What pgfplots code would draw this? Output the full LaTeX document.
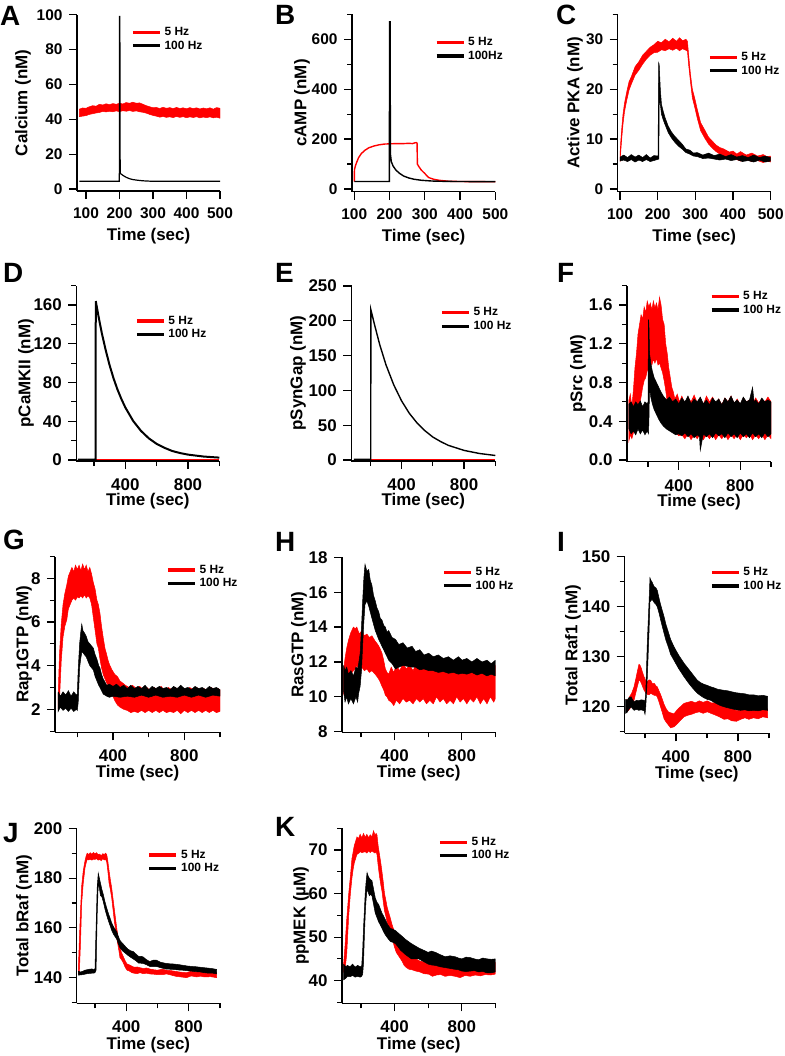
\documentclass[border=0pt]{standalone}
\usepackage{pgfplots}
\pgfplotsset{compat=1.18}
\usepackage{fontspec}
\setmainfont{Liberation Sans}
\newcommand{\fs}[1]{\fontsize{#1}{#1}\selectfont\bfseries}

\pgfplotsset{
  igor/.style={
    scale only axis,
    axis lines=left,
    axis line style={-, line width=1.2bp},
    tick align=outside,
    tick style={black, line width=1.2bp},
    major tick length=8bp, minor tick length=5bp,
    /pgf/number format/assume math mode=true,
    legend cell align=left,
    legend style={draw=none, fill=none, anchor=north west, inner sep=0pt, font=\fs{12}, row sep=1bp,
      nodes={inner ysep=0.5bp, inner xsep=3bp, text height=9bp, text depth=2.5bp}},
    legend image code/.code={\draw[##1, line width=3.3bp] (0bp,0bp) -- (27bp,0bp);},
    every axis y label/.style={rotate=90, anchor=center, font=\fs{17}},
    every axis x label/.style={anchor=center, font=\fs{17}},
    xlabel={Time (sec)},
    yticklabel style={anchor=east, xshift=-3bp},
  },
  toprow/.style={igor, xtick={100,200,...,500}, tick label style={font=\fs{15.5}}, xmax=500,
    xticklabel style={anchor=north, yshift=-5bp},
    xlabel style={at={(axis description cs:0.5,-0.255)}}},
  lowrow/.style={igor, xtick={400,800}, minor xtick={200,600,1000}, tick label style={font=\fs{17}}, xmax=1000,
    xticklabel style={anchor=north, yshift=-6bp}},
  band/.style={forget plot, mark=none, line width=0.5bp},
  trace/.style={forget plot, mark=none},
}

\begin{document}
\begin{tikzpicture}
\useasboundingbox (0bp,0bp) rectangle (785bp,-1056bp);

% ---------- A: Calcium ----------
\begin{axis}[toprow, at={(77bp,-191bp)}, anchor=south west, width=143bp, height=176.3bp,
  xmin=73.1, ymin=-1.15, ymax=100, ytick={0,20,...,100},
  ylabel={Calcium (nM)}, ylabel style={at={(axis description cs:-0.378,0.5)}},
  legend style={at={(0.378,0.937)}}]
\addplot[band, fill=red, draw=red] coordinates {
 (80,45.8) (90,46.5) (100,46.3) (110,47.2) (120,47.8) (130,47.5) (140,48.6) (150,48.2) (160,48.9) (170,48.4)
 (180,49) (190,48.6) (200,49.2) (210,48.8) (220,49.6) (230,49.2) (240,49.8) (250,49.2) (260,49.4) (270,48.6)
 (280,47.8) (290,47.2) (300,46.6) (310,46.8) (320,46.2) (330,46.9) (340,46.3) (350,46.7) (360,46.1) (370,46.8)
 (380,46.2) (390,46.6) (400,46) (410,46.7) (420,46.1) (430,46.6) (440,45.9) (450,46.5) (460,46) (470,46.6)
 (480,45.8) (490,46.7) (500,46.3)
 (500,40.6) (490,41.2) (480,40.8) (470,41.4) (460,40.9) (450,41.3) (440,40.8) (430,41.5) (420,41) (410,41.4)
 (400,40.9) (390,41.5) (380,41.1) (370,41.6) (360,41) (350,41.4) (340,41.1) (330,41.6) (320,41.2) (310,41.8)
 (300,42.2) (290,42.8) (280,43.5) (270,44) (260,44.3) (250,44.8) (240,44.5) (230,45) (220,44.6) (210,44.9)
 (200,44.4) (190,44.8) (180,44.3) (170,44.6) (160,44.2) (150,44.5) (140,43.9) (130,43.6) (120,43.2) (110,42.8)
 (100,42.1) (90,41.8) (80,41.5) (80,45.8)};
\addplot[trace, black, line width=1.2bp] coordinates {
 (80,4.4) (199.5,4.4) (200,99) (201,99) (202,9) (206,8.4) (212,7.6) (220,6.7) (230,5.9) (240,5.4)
 (255,5) (270,4.7) (290,4.5) (320,4.4) (500,4.4)};
\addlegendimage{red}\addlegendentry{5 Hz}
\addlegendimage{black}\addlegendentry{100 Hz}
\end{axis}

% ---------- B: cAMP ----------
\begin{axis}[toprow, at={(352bp,-191.7bp)}, anchor=south west, width=143.3bp, height=177.4bp,
  xmin=93.5, ymin=-10.8, ymax=700, ytick={0,200,400,600}, minor ytick={100,300,500,700},
  ylabel={cAMP (nM)}, ylabel style={at={(axis description cs:-0.349,0.5)}},
  legend style={at={(0.577,0.877)}}]
\addplot[trace, red, line width=1.4bp] coordinates {
 (100,30) (100.5,78) (103,92) (107,108) (112,125) (120,142) (130,155) (141,165) (155,172) (170,177)
 (185,180) (200,181) (220,182) (240,182) (255,183) (265,182) (272,185) (276,186) (278,184) (279,100)
 (283,90) (290,76) (300,62) (311,46) (325,39) (340,35) (368,31) (400,30) (450,29.5) (500,29)};
\addplot[trace, black, line width=1.4bp] coordinates {
 (100,30) (199.5,30) (200,670) (201.5,670) (202.5,140) (205,110) (210,92) (218,76) (228,63) (240,52)
 (255,44) (270,39) (290,35) (320,32) (360,30.5) (400,30) (500,29.5)};
\addlegendimage{red}\addlegendentry{5 Hz}
\addlegendimage{black}\addlegendentry{100Hz}
\end{axis}

% ---------- C: Active PKA ----------
\begin{axis}[toprow, at={(617.7bp,-191.7bp)}, anchor=south west, width=153bp, height=177.4bp,
  xmin=93.9, ymin=-0.54, ymax=35, ytick={0,10,20,30}, minor ytick={5,15,25,35},
  ylabel={Active PKA (nM)}, ylabel style={at={(axis description cs:-0.279,0.5)}},
  legend style={at={(0.59,0.794)}}]
\addplot[band, fill=red, draw=red] coordinates {
 (100,6.8) (102,9.5) (105,12.5) (108,15) (112,17.2) (118,19.5) (124,21.5) (130,22.5) (140,24.5) (150,25.5)
 (160,26.8) (170,27.6) (180,28.4) (190,28.9) (200,29.6) (210,29.3) (220,30) (230,29.5) (240,30.2) (250,29.6)
 (258,30.3) (266,29.7) (275,30) (279,29.6) (282,27) (287,23) (292,20) (298,18.3) (305,16) (314,13.3)
 (325,11.8) (335,10.4) (345,9.6) (355,8.8) (365,8.3) (376,8) (390,7.4) (400,7.6) (410,7) (420,7.5)
 (435,6.8) (450,7.2) (465,6.6) (480,6.9) (490,6.5) (500,6.6)
 (500,5.4) (490,5.6) (480,5.3) (465,5.7) (450,5.5) (435,5.9) (420,5.6) (410,5.9) (400,6.1) (390,6.3)
 (376,6.6) (365,7) (355,7.5) (345,8.2) (335,9) (325,10.2) (314,11.7) (305,14.2) (298,16.5) (292,18.3)
 (287,21.5) (282,25) (279,27.6) (275,27.8) (266,28.1) (258,27.7) (250,28.2) (240,27.8) (230,28.1) (220,27.7)
 (210,27.9) (200,27.4) (190,27.3) (180,26.8) (170,26) (160,25) (150,23.8) (140,22.8) (130,21) (124,19.8)
 (118,17.8) (112,15.5) (108,13) (105,10.5) (102,7.5) (100,5.5) (100,6.8)};
\addplot[band, fill=black, draw=black] coordinates {
 (100,6.4) (110,6.8) (120,6.3) (130,6.9) (140,6.4) (150,6.8) (160,6.3) (170,6.9) (180,6.2) (190,6.7)
 (201,6.6) (202.5,25.3) (204,25) (207,20) (210,17) (215,15.5) (220,14.2) (228,12.6) (236,11.5) (245,10.6)
 (255,9.8) (265,9) (275,8) (285,7.8) (295,7.2) (305,7.3) (320,6.8) (335,7.2) (350,6.7) (365,7)
 (380,6.5) (395,6.9) (410,6.4) (425,6.7) (440,6.3) (455,6.8) (470,6.3) (485,6.6) (500,6.3)
 (500,5.6) (485,5.4) (470,5.8) (455,5.4) (440,5.7) (425,5.5) (410,5.9) (395,5.7) (380,6) (365,5.8)
 (350,6) (335,6.2) (320,6.1) (305,6.5) (295,6.6) (285,7) (275,7.3) (265,8) (255,8.6) (245,9.4)
 (236,10.3) (228,11.3) (220,12.8) (215,13.8) (210,15) (207,17) (204.5,20) (203,6) (190,5.7) (180,5.5)
 (170,5.9) (160,5.5) (150,5.8) (140,5.4) (130,5.9) (120,5.5) (110,5.8) (100,5.6) (100,6.4)};
\addlegendimage{red}\addlegendentry{5 Hz}
\addlegendimage{black}\addlegendentry{100 Hz}
\end{axis}

% ---------- D: pCaMKII ----------
\begin{axis}[lowrow, at={(76.3bp,-461bp)}, anchor=south west, width=143bp, height=175.4bp,
  xmin=87.3, ymin=-1, ymax=180, ytick={0,40,...,160}, minor ytick={20,60,100,140,180},
  ylabel={pCaMKII (nM)}, ylabel style={at={(axis description cs:-0.352,0.5)}},
  xlabel style={at={(axis description cs:0.5,-0.228)}},
  legend style={at={(0.41,0.835)}}]
\addplot[trace, red, line width=1.6bp] coordinates {(97,0.5) (1000,0.5)};
\addplot[trace, black, line width=2bp] coordinates {
 (97,0.4) (211,0.4) (211.5,164) (230,147.5) (250,131) (275,113.4) (300,97.7) (325,84.3) (350,72.8) (375,63)
 (400,54.3) (450,40.4) (500,30.1) (550,22.4) (600,16.7) (650,12.6) (700,9.3) (750,7.2) (800,5.6) (900,3.6)
 (1000,2.5)};
\addlegendimage{red}\addlegendentry{5 Hz}
\addlegendimage{black}\addlegendentry{100 Hz}
\end{axis}

% ---------- E: pSynGap ----------
\begin{axis}[lowrow, at={(351.3bp,-461bp)}, anchor=south west, width=144bp, height=175.7bp,
  xmin=78.5, ymin=-1.44, ymax=251, ytick={0,50,...,250},
  ylabel={pSynGap (nM)}, ylabel style={at={(axis description cs:-0.37,0.5)}},
  xlabel style={at={(axis description cs:0.5,-0.228)}},
  legend style={at={(0.616,0.881)}}]
\addplot[trace, red, line width=1.6bp] coordinates {(95,1) (1000,1)};
\addplot[trace, black, line width=1.4bp] coordinates {
 (95,0.8) (203,0.8) (203.5,216) (230,192) (260,166) (300,137) (350,108) (400,85) (450,67) (500,53)
 (550,42) (600,33) (650,26.5) (700,21) (800,13.8) (900,9.3) (1000,6.5)};
\addlegendimage{red}\addlegendentry{5 Hz}
\addlegendimage{black}\addlegendentry{100 Hz}
\end{axis}

% ---------- F: pSrc ----------
\begin{axis}[lowrow, at={(627bp,-461.7bp)}, anchor=south west, width=144bp, height=176.1bp,
  xmin=63.4, ymin=-0.0175, ymax=1.8, ytick={0,0.4,0.8,1.2,1.6}, minor ytick={0.2,0.6,1.0,1.4,1.8},
  yticklabel style={/pgf/number format/.cd, fixed, fixed zerofill, precision=1},
  ylabel={pSrc (nM)}, ylabel style={at={(axis description cs:-0.34,0.5)}},
  xlabel style={at={(axis description cs:0.5,-0.228)}},
  legend style={at={(0.574,0.974)}}]
\addplot[band, fill=red, draw=red] coordinates {
 (76,0.62) (85,0.68) (95,0.55) (105,0.72) (115,0.95) (125,1.1) (135,1.3) (145,1.4) (155,1.5) (165,1.45)
 (175,1.58) (185,1.52) (195,1.64) (205,1.58) (215,1.62) (225,1.55) (235,1.64) (245,1.57) (255,1.62) (265,1.55)
 (275,1.68) (285,1.6) (295,1.45) (305,1.4) (315,1.2) (325,1.1) (335,0.95) (345,0.85) (355,0.75) (365,0.7)
 (375,0.63) (390,0.68) (405,0.6) (420,0.66) (440,0.58) (460,0.65) (480,0.6) (500,0.67) (520,0.59) (540,0.64)
 (560,0.57) (580,0.66) (600,0.6) (620,0.65) (640,0.58) (660,0.63) (680,0.57) (700,0.64) (720,0.6) (740,0.66)
 (760,0.58) (780,0.63) (800,0.57) (820,0.64) (840,0.6) (860,0.62) (880,0.57) (900,0.64) (920,0.59) (940,0.63)
 (960,0.6) (980,0.65) (1000,0.6)
 (1000,0.22) (980,0.26) (960,0.21) (940,0.27) (920,0.22) (900,0.26) (880,0.21) (860,0.27) (840,0.23) (820,0.26)
 (800,0.21) (780,0.27) (760,0.22) (740,0.26) (720,0.21) (700,0.27) (680,0.22) (660,0.26) (640,0.21) (620,0.27)
 (600,0.22) (580,0.26) (560,0.21) (540,0.27) (520,0.22) (500,0.26) (480,0.21) (460,0.27) (440,0.22) (420,0.26)
 (400,0.25) (380,0.28) (365,0.3) (355,0.35) (345,0.42) (335,0.5) (325,0.6) (315,0.72) (305,0.82) (295,0.9)
 (285,0.95) (275,1.0) (265,0.98) (255,1.05) (245,1.0) (235,1.04) (225,0.98) (215,1.02) (205,0.95) (195,0.92)
 (185,0.85) (175,0.82) (165,0.75) (155,0.65) (145,0.58) (135,0.5) (125,0.42) (115,0.35) (105,0.28) (95,0.22)
 (85,0.26) (76,0.2) (76,0.62)};
\addplot[band, fill=black, draw=black] coordinates {
 (76,0.58) (90,0.6) (105,0.55) (120,0.6) (135,0.57) (150,0.61) (165,0.55) (180,0.6) (195,0.58) (200,0.6)
 (203,1.45) (206,1.4) (210,1.1) (218,1.0) (228,0.92) (240,0.85) (255,0.8) (270,0.75) (285,0.7) (300,0.66)
 (320,0.62) (340,0.65) (360,0.6) (380,0.63) (400,0.58) (420,0.64) (440,0.6) (460,0.66) (480,0.58) (500,0.63)
 (520,0.6) (540,0.65) (560,0.58) (580,0.62) (600,0.57) (620,0.64) (640,0.6) (660,0.63) (680,0.57) (700,0.64)
 (720,0.6) (740,0.66) (760,0.59) (780,0.62) (800,0.58) (820,0.65) (840,0.6) (860,0.62) (880,0.75) (890,0.6)
 (900,0.62) (920,0.58) (940,0.64) (960,0.6) (980,0.62) (1000,0.6)
 (1000,0.27) (980,0.24) (960,0.28) (940,0.23) (920,0.27) (900,0.24) (880,0.28) (860,0.23) (840,0.27) (820,0.24)
 (800,0.28) (780,0.23) (760,0.27) (740,0.24) (720,0.28) (700,0.23) (680,0.27) (660,0.25) (640,0.28) (620,0.23)
 (600,0.27) (580,0.24) (560,0.27) (540,0.1) (535,0.24) (520,0.26) (500,0.23) (480,0.27) (460,0.24) (440,0.28)
 (420,0.25) (400,0.27) (380,0.26) (360,0.28) (340,0.3) (320,0.32) (300,0.35) (285,0.38) (270,0.42) (255,0.47)
 (240,0.52) (228,0.58) (218,0.65) (210,0.75) (206,0.4) (203,0.27) (195,0.3) (180,0.26) (165,0.31) (150,0.27)
 (135,0.32) (120,0.26) (105,0.3) (90,0.27) (76,0.32) (76,0.58)};
\addlegendimage{red}\addlegendentry{5 Hz}
\addlegendimage{black}\addlegendentry{100 Hz}
\end{axis}

% ---------- G: Rap1GTP ----------
\begin{axis}[lowrow, at={(55bp,-732.3bp)}, anchor=south west, width=165bp, height=175.8bp,
  xmin=75, ymin=0.946, ymax=9, ytick={2,4,6,8}, minor ytick={1,3,5,7,9},
  ylabel={Rap1GTP (nM)}, ylabel style={at={(axis description cs:-0.188,0.5)}},
  xlabel style={at={(axis description cs:0.5,-0.232)}},
  legend style={at={(0.673,0.96)}}]
\addplot[band, fill=red, draw=red] coordinates {
 (93,2.7) (100,4.5) (110,5.9) (120,6.8) (130,7.3) (141,7.7) (150,8.1) (160,8.3) (170,8.5) (180,8.3)
 (190,8.6) (200,8.4) (210,8.6) (220,8.35) (230,8.65) (240,8.4) (250,8.6) (260,8.3) (270,8.5) (280,8.2)
 (290,7.8) (300,7.5) (310,7.0) (318,6.8) (327,6.4) (336,5.8) (345,5.3) (355,4.8) (365,4.5) (374,4.2)
 (383,4.0) (395,3.8) (410,3.6) (425,3.5) (439,3.3) (455,3.2) (470,3.1) (490,3.0) (510,3.1) (530,2.95)
 (550,3.05) (570,2.9) (590,3.0) (610,2.85) (630,3.0) (650,2.9) (670,3.05) (690,2.85) (710,3.0) (730,2.9)
 (750,3.0) (770,2.85) (790,2.95) (810,2.85) (830,3.0) (850,2.9) (870,3.0) (890,2.85) (910,2.95) (930,2.85)
 (950,3.0) (970,2.9) (990,2.95) (1000,2.9)
 (1000,1.9) (980,1.85) (960,1.95) (940,1.85) (920,1.95) (900,1.85) (880,1.95) (860,1.85) (840,1.95) (820,1.85)
 (800,1.95) (780,1.8) (760,1.95) (740,1.85) (720,1.9) (700,1.85) (680,1.95) (660,1.85) (640,1.95) (620,1.85)
 (600,1.95) (580,1.85) (560,1.95) (540,1.85) (520,1.9) (500,1.85) (480,1.95) (460,2.0) (439,2.1) (425,2.2)
 (410,2.4) (395,2.7) (383,3.0) (374,3.1) (365,3.2) (355,3.4) (345,3.6) (336,3.9) (327,4.3) (318,4.8)
 (310,5.0) (300,5.6) (290,6.2) (280,6.8) (270,7.1) (260,7.2) (250,7.1) (240,7.25) (230,7.1) (220,7.2)
 (210,7.1) (200,7.15) (190,7.0) (180,7.1) (170,7.0) (160,6.8) (150,6.6) (141,6.1) (130,5.8) (120,5.3)
 (110,4.2) (100,2.4) (93,2.0) (93,2.7)};
\addplot[band, fill=black, draw=black] coordinates {
 (93,2.8) (105,2.6) (120,2.8) (135,2.65) (150,2.85) (165,2.6) (180,2.8) (195,2.65) (200,2.7) (205,3.8)
 (213,5.0) (219,5.5) (225,5.9) (232,5.6) (240,5.5) (250,5.35) (260,5.1) (270,5.0) (280,4.9) (290,4.8)
 (300,4.5) (310,4.3) (320,4.0) (327,3.9) (336,3.6) (345,3.4) (355,3.25) (365,3.1) (380,3.15) (400,3.05)
 (420,3.15) (440,3.0) (460,3.1) (480,2.95) (500,3.1) (520,2.95) (540,3.05) (560,2.95) (580,3.1) (600,2.9)
 (620,3.05) (640,2.95) (660,3.05) (680,2.95) (700,3.0) (720,2.9) (740,3.05) (760,2.95) (780,3.1) (800,2.95)
 (820,3.0) (840,2.9) (860,3.05) (880,2.95) (900,3.0) (920,2.9) (940,3.05) (960,2.95) (980,3.0) (1000,2.9)
 (1000,2.6) (960,2.65) (920,2.55) (880,2.65) (840,2.55) (800,2.65) (760,2.55) (720,2.6) (680,2.55) (640,2.65)
 (600,2.55) (560,2.65) (520,2.55) (480,2.6) (440,2.55) (400,2.6) (380,2.55) (365,2.6) (355,2.65) (345,2.7)
 (336,2.85) (327,3.0) (320,3.1) (310,3.3) (300,3.5) (290,3.8) (280,3.9) (270,4.0) (260,4.2) (250,4.4)
 (240,4.5) (232,4.6) (225,4.6) (219,4.3) (213,3.9) (205,2.3) (200,1.95) (195,2.0) (180,1.9) (165,2.05)
 (150,1.9) (135,2.05) (120,1.95) (105,2.1) (93,1.9) (93,2.8)};
\addlegendimage{red}\addlegendentry{5 Hz}
\addlegendimage{black}\addlegendentry{100 Hz}
\end{axis}

% ---------- H: RasGTP ----------
\begin{axis}[lowrow, at={(342bp,-732.3bp)}, anchor=south west, width=153.4bp, height=175bp,
  xmin=87, ymin=7.966, ymax=18, ytick={8,10,...,18},
  ylabel={RasGTP (nM)}, ylabel style={at={(axis description cs:-0.28,0.5)}},
  xlabel style={at={(axis description cs:0.5,-0.232)}},
  legend style={at={(0.652,0.951)}}]
\addplot[band, fill=red, draw=red] coordinates {
 (97,11.6) (105,12.2) (115,12.8) (127,13.3) (140,13.7) (155,14.0) (166,13.9) (175,14.0) (190,13.6) (205,13.8)
 (220,13.5) (235,13.6) (250,13.4) (265,13.5) (284,13.2) (300,13.0) (312,12.8) (325,12.5) (335,12.1) (345,11.6)
 (355,11.4) (365,11.3) (380,11.7) (395,11.4) (410,11.8) (430,11.5) (450,11.9) (470,11.6) (490,11.8) (510,11.5)
 (530,11.9) (550,11.6) (570,12.0) (590,11.6) (610,11.8) (630,11.5) (650,11.9) (670,11.6) (690,11.8) (710,11.5)
 (730,11.9) (750,11.6) (770,11.8) (790,11.5) (810,11.9) (830,11.6) (850,11.8) (870,11.5) (890,11.9) (910,11.6)
 (930,11.8) (950,11.6) (970,11.9) (990,11.6) (1000,11.8)
 (1000,9.9) (990,9.7) (970,10.0) (950,9.6) (930,9.9) (910,9.6) (890,10.0) (870,9.7) (850,9.9) (830,9.6)
 (810,9.9) (790,9.7) (770,10.0) (750,9.6) (730,9.8) (710,9.6) (690,9.9) (670,9.7) (650,10.0) (630,9.6)
 (610,9.8) (590,9.6) (570,9.9) (550,9.7) (530,9.9) (510,9.6) (490,9.8) (470,9.7) (450,9.9) (430,9.6)
 (410,9.8) (395,9.5) (380,9.7) (365,9.8) (355,10.0) (345,10.1) (335,10.4) (325,10.6) (312,10.9) (300,11.1)
 (284,11.3) (265,11.5) (250,11.4) (235,11.6) (220,11.5) (205,11.7) (190,11.5) (175,11.8) (166,11.6) (155,11.5)
 (140,11.3) (127,11.2) (115,10.8) (105,10.5) (97,10.2) (97,11.6)};
\addplot[band, fill=black, draw=black] coordinates {
 (97,11.8) (105,11.5) (115,11.7) (125,11.3) (140,11.5) (155,11.2) (170,11.7) (180,11.6) (186,11.9) (195,12.5)
 (203,14) (210,15.5) (217,16.8) (224,17.6) (235,17.2) (246,17.3) (255,16.7) (265,16.4) (275,15.8) (285,15.5)
 (295,15.1) (305,14.9) (315,14.5) (325,14.4) (335,14.1) (345,14.0) (355,13.7) (365,13.8) (385,13.4) (405,13.3)
 (425,13.0) (450,13.1) (475,12.8) (504,12.9) (525,12.6) (550,12.7) (575,12.4) (603,12.5) (630,12.3) (660,12.4)
 (690,12.2) (720,12.3) (750,12.1) (780,12.3) (801,12.1) (830,12.2) (860,12.0) (890,12.2) (920,12.0) (950,12.1)
 (975,11.9) (1000,12.1)
 (1000,11.2) (975,11.3) (950,11.2) (920,11.35) (890,11.25) (860,11.4) (830,11.3) (801,11.35) (780,11.3) (750,11.4)
 (720,11.35) (690,11.45) (660,11.4) (630,11.5) (603,11.5) (575,11.6) (550,11.55) (525,11.7) (504,11.7) (475,11.75)
 (450,11.8) (425,11.7) (405,11.6) (385,11.9) (365,12.1) (345,12.5) (325,12.9) (305,13.3) (285,13.8) (265,14.5)
 (246,15.2) (235,15.5) (224,15.3) (217,14.3) (210,13.0) (203,11.5) (195,10.6) (186,10.2) (180,9.7) (170,10.0)
 (155,9.6) (140,9.9) (125,9.6) (115,10.0) (105,9.7) (97,10.3) (97,11.8)};
\addlegendimage{red}\addlegendentry{5 Hz}
\addlegendimage{black}\addlegendentry{100 Hz}
\end{axis}

% ---------- I: Total Raf1 ----------
\begin{axis}[lowrow, at={(624.7bp,-733.3bp)}, anchor=south west, width=144.3bp, height=176.5bp,
  xmin=69, ymin=114.7, ymax=150, ytick={120,130,140,150}, minor ytick={115,125,135,145},
  ylabel={Total Raf1 (nM)}, ylabel style={at={(axis description cs:-0.358,0.5)}},
  xlabel style={at={(axis description cs:0.5,-0.232)}},
  legend style={at={(0.591,0.947)}}]
\addplot[band, fill=red, draw=red] coordinates {
 (82,121.5) (90,121.2) (100,122) (115,122.8) (129,124) (140,125.5) (150,127) (161,128.5) (168,128.3) (175,127.8)
 (185,126.8) (194,126) (205,125.2) (215,125) (226,125.4) (237,125.3) (248,124.6) (260,124.7) (270,124.2) (279,124)
 (290,123.2) (300,122.5) (312,121.5) (323,120.5) (335,119.7) (350,119) (365,118.8) (387,118.6) (405,119.3) (420,119.8)
 (435,120.2) (452,120.7) (475,120.9) (500,121.1) (525,120.8) (550,121.2) (575,120.9) (602,121.2) (625,120.8) (650,120.8)
 (680,120.5) (710,120.3) (735,120) (760,119.8) (790,119.2) (817,119.4) (845,119.8) (870,119.5) (900,119.6) (930,119.3)
 (960,119.7) (991,119.6)
 (991,117.8) (960,118) (930,117.6) (900,117.8) (870,117.5) (845,117.8) (817,117.5) (790,117.1) (760,117.2) (735,117.6)
 (710,117.5) (680,118) (650,118.4) (625,118.7) (602,119) (575,118.7) (550,119) (525,118.8) (500,118.5) (475,118.3)
 (452,118) (435,117.5) (420,117) (405,116.5) (387,116) (365,115.8) (350,116.4) (335,117) (323,117.6) (312,118.8)
 (300,120) (290,121) (279,122) (270,122.3) (260,122.3) (248,122.5) (237,122.7) (226,122.4) (215,122.5) (205,122.8)
 (194,123.3) (185,124) (175,124.8) (168,125.2) (161,125.3) (150,124) (140,122.7) (129,121.3) (115,120.3) (100,119.5)
 (90,119.2) (82,119) (82,121.5)};
\addplot[band, fill=black, draw=black] coordinates {
 (75,121.5) (85,121.3) (95,121.8) (110,122) (120,121.4) (130,121) (145,121.3) (160,121.2) (175,121.4) (194,121.3)
 (200,121) (205,123) (215,133) (226,141) (232,145.8) (238,145.3) (245,145) (252,144.5) (260,144) (270,143.8)
 (279,143.3) (290,141.8) (300,140.5) (312,139.2) (323,138) (335,136.5) (350,135) (365,133.5) (387,132) (405,131)
 (420,130.2) (435,129.5) (452,128.7) (475,127.8) (500,126.8) (520,126) (538,125.3) (560,124.8) (580,124.5) (600,124.3)
 (624,124) (645,123.8) (670,123.5) (690,123.4) (710,123.3) (735,123.2) (760,123) (790,122.8) (817,122.7) (845,122.6)
 (870,122.4) (900,122.4) (930,122.2) (960,122.3) (991,122.1)
 (991,119.3) (960,119.4) (930,119.2) (900,119.3) (870,119.2) (845,119.4) (817,119.3) (790,119.4) (760,119.6) (735,119.8)
 (710,120) (690,120.2) (670,120.5) (645,120.9) (624,121.3) (600,121.5) (580,121.8) (560,122.2) (538,122.7) (520,123.3)
 (500,124) (475,125) (452,126) (435,126.8) (420,127.5) (405,128.3) (387,129.3) (365,130.5) (350,132) (335,133.3)
 (323,134.7) (312,136) (300,137.5) (290,138.8) (279,140) (270,140.5) (260,140.8) (252,141.2) (245,141.5) (238,141.2)
 (232,141) (226,135) (215,126) (205,120) (200,118.5) (194,119.2) (175,119.4) (160,119.3) (145,119.5) (130,119.3)
 (120,119.6) (110,120) (95,119.5) (85,118.9) (75,118.7) (75,121.5)};
\addlegendimage{red}\addlegendentry{5 Hz}
\addlegendimage{black}\addlegendentry{100 Hz}
\end{axis}

% ---------- J: Total bRaf ----------
\begin{axis}[lowrow, at={(76.7bp,-1003.3bp)}, anchor=south west, width=143.3bp, height=175bp,
  xmin=83, ymin=129.7, ymax=200, ytick={140,160,180,200}, minor ytick={130,150,170,190},
  ylabel={Total bRaf (nM)}, ylabel style={at={(axis description cs:-0.368,0.5)}},
  xlabel style={at={(axis description cs:0.5,-0.238)}},
  legend style={at={(0.495,0.885)}}]
\addplot[band, fill=red, draw=red] coordinates {
 (93,143) (100,155) (108,168) (115,177) (125,183) (136,187) (143,188.8) (150,190) (160,189.5) (170,190.2)
 (180,189.6) (190,190.3) (200,189.8) (210,190.2) (220,189.4) (230,189.6) (240,189) (250,189.8) (260,189.5) (268,190)
 (275,189.5) (282,187) (290,183) (298,179.5) (307,176) (316,171.5) (325,167) (332,163.5) (339,160) (350,155.5)
 (360,152) (370,150) (381,148.5) (393,146.8) (405,145.5) (415,145.3) (424,145) (437,144.6) (450,144.2) (470,144.3)
 (488,144) (510,143.7) (530,143.9) (550,143.5) (575,143.2) (600,143) (630,143.4) (658,143) (690,142.8) (720,142.5)
 (750,142.2) (786,142) (815,142.6) (850,142.3) (875,142.5) (900,142.2) (940,142.4) (978,142)
 (978,140) (940,140.4) (900,140.3) (875,140.6) (850,140.3) (815,140.7) (786,140) (750,140.3) (720,140.5) (690,141)
 (658,141.5) (630,141.2) (600,141.2) (575,141.4) (550,141.5) (530,141.8) (510,141.6) (488,142) (470,141.6) (450,141.8)
 (437,142) (424,142.5) (415,142.8) (405,143) (393,144.2) (381,146) (370,147.2) (360,148) (350,152) (339,156)
 (332,159.5) (325,162) (316,167) (307,172) (298,175.5) (290,178) (282,183) (275,186.5) (268,187.5) (260,187.3)
 (250,187.8) (240,187) (230,187.5) (220,187.2) (210,187.8) (200,187.5) (190,187.6) (180,187.2) (170,187.6) (160,187.3)
 (150,187.5) (143,186) (136,184) (125,178) (115,170) (108,155) (100,142) (93,141.5) (93,143)};
\addplot[band, fill=black, draw=black] coordinates {
 (93,142.6) (105,142.3) (120,142.5) (135,143) (150,143.2) (165,143.4) (180,143.5) (190,143.3) (200,143.5) (207,160)
 (214,176) (221,182) (228,180) (235,178) (244,175.5) (253,173.5) (264,170.5) (275,168) (285,166) (296,164)
 (307,162) (318,160.5) (328,159.5) (339,158.5) (350,156.5) (360,155) (370,154.2) (381,153.5) (395,152.5) (410,151.5)
 (428,150.8) (445,150.5) (462,149.5) (480,148.5) (495,148.6) (509,148.3) (530,147.2) (550,146.5) (572,147) (594,147)
 (620,146.2) (650,145.8) (675,145.6) (701,145.5) (730,145.3) (760,145) (790,144.7) (820,144.5) (845,144.4) (872,144.2)
 (900,144) (930,143.8) (955,143.6) (978,143.3)
 (978,141.5) (955,141.8) (930,141.8) (900,142) (872,142.3) (845,142.4) (820,142.6) (790,142.8) (760,143) (730,143.1)
 (701,143.3) (675,143.4) (650,143.5) (620,144) (594,144.5) (572,144.4) (550,144.5) (530,145.2) (509,145.7) (495,145.8)
 (480,145.8) (462,146.8) (445,147.5) (428,148.2) (410,149) (395,149.8) (381,150.5) (370,151.2) (360,152) (350,153.5)
 (339,155.5) (328,156.5) (318,157.5) (307,159) (296,161) (285,163) (275,165) (264,167.5) (253,170.5) (244,172.5)
 (235,173) (228,176) (221,178) (214,165) (207,143) (200,142) (190,141.8) (180,141.8) (165,141.7) (150,141.6)
 (135,141.4) (120,141.2) (105,141.1) (93,141) (93,142.6)};
\addlegendimage{red}\addlegendentry{5 Hz}
\addlegendimage{black}\addlegendentry{100 Hz}
\end{axis}

% ---------- K: ppMEK ----------
\begin{axis}[lowrow, at={(342bp,-1003.3bp)}, anchor=south west, width=153.4bp, height=175.1bp,
  xmin=87, ymin=34.8, ymax=75, ytick={40,50,60,70}, minor ytick={35,45,55,65,75},
  ylabel={ppMEK (µM)}, ylabel style={at={(axis description cs:-0.267,0.5)}},
  xlabel style={at={(axis description cs:0.5,-0.238)}},
  legend style={at={(0.626,0.957)}}]
\addplot[band, fill=red, draw=red] coordinates {
 (97,44) (105,48) (115,54) (127,60) (137,64) (146,68) (153,69.5) (160,71) (168,72) (176,73)
 (185,72.6) (195,73.6) (205,72.8) (215,73.8) (225,72.9) (235,73.6) (245,72.8) (255,73.5) (265,73) (275,74.4)
 (283,73.4) (290,73.8) (295,73.5) (302,71) (310,69) (318,67) (325,65) (333,62.5) (340,60) (348,58.5)
 (355,57) (362,56) (370,55) (377,54) (384,53) (397,51.5) (410,50) (427,48.8) (444,47.5) (457,46.8)
 (470,46) (487,45.8) (504,45.5) (527,45) (550,44.5) (575,44.3) (603,44) (625,44.4) (650,44) (675,43.9)
 (700,44.2) (730,43.7) (760,43.8) (790,44.3) (820,44) (850,43.8) (880,44.2) (910,43.9) (940,44) (970,43.8)
 (1000,44.2)
 (1000,41.5) (970,41.3) (940,41.4) (910,41.1) (880,41.3) (850,41.0) (820,41.2) (790,40.7) (760,41) (730,41.2)
 (700,41) (675,41.4) (650,41.3) (625,41) (603,41.5) (575,41.6) (550,42) (527,42.2) (504,42.5) (487,42.6)
 (470,43) (457,43.5) (444,44.5) (427,45.5) (410,46.5) (397,48) (384,50) (377,50.5) (370,51) (362,52.5)
 (355,53.5) (348,54.8) (340,56) (333,58) (325,60.5) (318,62) (310,64) (302,66.5) (295,69) (290,69.6)
 (283,69.3) (275,69.5) (265,69.8) (255,69.4) (245,69.8) (235,69.3) (225,69.6) (215,69.5) (205,69.4) (195,69.6)
 (185,69.2) (176,69) (168,68) (160,67) (153,65.5) (146,63.5) (137,60) (127,55) (115,46) (105,42.5)
 (97,42) (97,44)};
\addplot[band, fill=black, draw=black] coordinates {
 (97,43.8) (108,43.2) (120,43.5) (135,43.2) (150,43.8) (165,43.1) (180,43.5) (195,43.2) (204,43.3) (210,47)
 (215,52) (220,56) (225,60) (230,62.5) (236,64.8) (243,64) (250,63.5) (257,63.2) (265,63) (275,61)
 (285,59) (295,58) (305,57.5) (315,56.5) (325,55.5) (335,54.8) (345,54) (360,52.8) (375,52) (390,51.8)
 (405,51.5) (420,51) (435,50.5) (450,50) (464,49.5) (482,49) (500,48.5) (522,48) (544,47.5) (572,47)
 (600,46.5) (620,46.8) (643,46.5) (670,46) (700,45.5) (730,45.7) (760,45.5) (780,45.2) (801,45) (825,45.4)
 (850,45.3) (875,45) (900,44.8) (925,45.2) (950,45) (975,44.9) (1000,45)
 (1000,42) (975,41.8) (950,41.8) (925,42.1) (900,42) (875,42.3) (850,42.2) (825,42.1) (801,42.2) (780,42.5)
 (760,42.6) (730,42.8) (700,43) (670,43.2) (643,43.5) (620,43.6) (600,43.8) (572,44.4) (544,45) (522,45)
 (500,45) (482,45.5) (464,46) (450,46.5) (435,47) (420,47.8) (405,48.5) (390,48.8) (375,49) (360,49.7)
 (345,50.5) (335,51.2) (325,52) (315,52.8) (305,53.5) (295,54.5) (285,55.5) (275,57.5) (265,59.5) (257,59.8)
 (250,59.5) (243,60.3) (236,61) (230,58.5) (225,55) (220,50) (215,44) (210,41.5) (204,41) (195,40.8)
 (180,41) (165,40.8) (150,41.2) (135,40.9) (120,41) (108,40.5) (97,40.2) (97,43.8)};
\addlegendimage{red}\addlegendentry{5 Hz}
\addlegendimage{black}\addlegendentry{100 Hz}
\end{axis}

% panel letters
\node[anchor=north west, inner sep=0pt, font=\fs{28}] at (0bp,-6bp) {A};
\node[anchor=north west, inner sep=0pt, font=\fs{28}] at (275bp,-5bp) {B};
\node[anchor=north west, inner sep=0pt, font=\fs{28}] at (556bp,-5bp) {C};
\node[anchor=north west, inner sep=0pt, font=\fs{28}] at (3bp,-263bp) {D};
\node[anchor=north west, inner sep=0pt, font=\fs{28}] at (275bp,-263bp) {E};
\node[anchor=north west, inner sep=0pt, font=\fs{28}] at (557bp,-263bp) {F};
\node[anchor=north west, inner sep=0pt, font=\fs{28}] at (3bp,-530bp) {G};
\node[anchor=north west, inner sep=0pt, font=\fs{28}] at (275bp,-532bp) {H};
\node[anchor=north west, inner sep=0pt, font=\fs{28}] at (557bp,-532bp) {I};
\node[anchor=north west, inner sep=0pt, font=\fs{28}] at (3bp,-823bp) {J};
\node[anchor=north west, inner sep=0pt, font=\fs{28}] at (275bp,-817bp) {K};
\end{tikzpicture}
\end{document}
